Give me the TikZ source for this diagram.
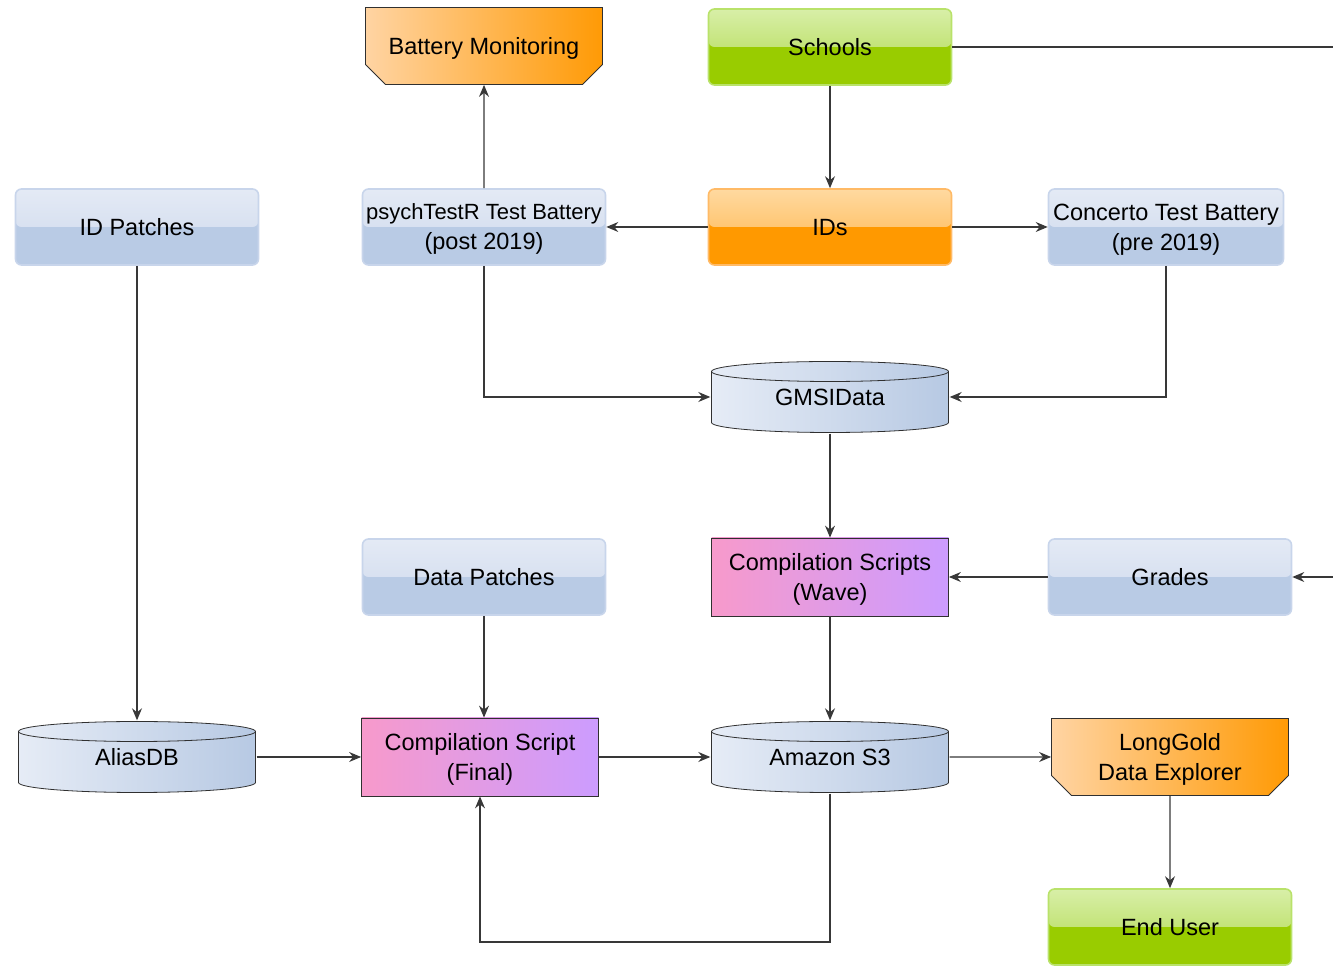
\documentclass[tikz,border=0pt]{standalone}
\usepackage{fontspec}
\setmainfont{Liberation Sans}
\usetikzlibrary{arrows.meta,shapes.misc}
\definecolor{lineC}{HTML}{303030}
\definecolor{linkC}{HTML}{383838}
\definecolor{blueTop}{HTML}{E4EAF5}
\definecolor{blueMid}{HTML}{CCD8EC}
\definecolor{blueBase}{HTML}{B9CBE5}
\definecolor{blueEdge}{HTML}{C8D5EB}
\definecolor{greenTop}{HTML}{D8EFA8}
\definecolor{greenMid}{HTML}{AED848}
\definecolor{greenBase}{HTML}{99CC00}
\definecolor{greenEdge}{HTML}{B9E26A}
\definecolor{orangeTop}{HTML}{FFD9A0}
\definecolor{orangeMid}{HTML}{FFB446}
\definecolor{orangeBase}{HTML}{FF9900}
\definecolor{orangeEdge}{HTML}{FFBA66}
\definecolor{peachL}{HTML}{FFD4A3}
\definecolor{peachR}{HTML}{FF9A05}
\definecolor{pinkL}{HTML}{F79ACB}
\definecolor{violetR}{HTML}{CC9CFF}
\definecolor{drumL}{HTML}{E6ECF6}
\definecolor{drumR}{HTML}{B7C9E3}
\tikzset{
  glossy/.style n args={4}{rectangle, rounded corners=6bp, draw=#4, line width=1.6bp,
    fill=#1, minimum width=243bp, minimum height=76bp, inner sep=2bp,
    path picture={\fill[top color=#2, bottom color=#3]
      (path picture bounding box.north west) rectangle (path picture bounding box.east);}},
  bluebox/.style={glossy={blueBase}{blueTop}{blueMid}{blueEdge}},
  greenbox/.style={glossy={greenBase}{greenTop}{greenMid}{greenEdge}},
  orangebox/.style={glossy={orangeBase}{orangeTop}{orangeMid}{orangeEdge}},
  banner/.style={chamfered rectangle, chamfered rectangle corners={south west,south east},
    chamfered rectangle xsep=9bp, chamfered rectangle ysep=11bp, draw=lineC, line width=0.8bp,
    left color=peachL, right color=peachR, minimum width=237bp, minimum height=77bp, inner sep=1bp},
  script/.style={rectangle, draw=lineC, line width=0.8bp, left color=pinkL, right color=violetR,
    minimum width=237bp, minimum height=78bp, inner sep=1bp},
  drum/.style={rectangle, minimum width=239bp, minimum height=73bp, inner sep=0pt,
    path picture={
      \shadedraw[left color=drumL, right color=drumR, draw=lineC, line width=0.8bp]
        ([shift={(1bp,-11bp)}]path picture bounding box.north west)
        -- ([shift={(1bp,11bp)}]path picture bounding box.south west)
        arc[start angle=180, end angle=360, x radius=118.5bp, y radius=10bp]
        -- ([shift={(-1bp,-11bp)}]path picture bounding box.north east)
        arc[start angle=0, end angle=180, x radius=118.5bp, y radius=10bp] -- cycle;
      \draw[lineC, line width=0.8bp]
        ([shift={(1bp,-11bp)}]path picture bounding box.north west)
        arc[start angle=180, end angle=360, x radius=118.5bp, y radius=10bp];}},
  every node/.style={font=\fontsize{23.5bp}{30bp}\selectfont, align=center, text=black, text depth=0bp},
  link/.style={draw=linkC, line width=1.1bp},
}
\begin{document}
\begin{tikzpicture}[>={Stealth[length=12bp,width=10bp,inset=4bp]}]
\useasboundingbox (0bp,0bp) rectangle (1333bp,966bp);
%%
\node (node_battery) at (484bp,920bp) [banner] {Battery Monitoring};
\node (node_schools) at (830bp,919bp) [greenbox] {Schools};
\node (node_idpatch) at (137bp,739bp) [bluebox] {ID Patches};
\node (node_psych) at (484bp,739bp) [bluebox] {\fontsize{22bp}{28bp}\selectfont psychTestR Test Battery\\(post 2019)};
\node (node_ids) at (830bp,739bp) [orangebox] {IDs};
\node (node_concerto) at (1166bp,739bp) [bluebox, minimum width=235bp] {Concerto Test Battery\\(pre 2019)};
\node (node_gmsi) at (830bp,569bp) [drum] {GMSIData};
\node (node_wave) at (830bp,389bp) [script] {Compilation Scripts\\(Wave)};
\node (node_grades) at (1170bp,389bp) [bluebox] {Grades};
\node (node_datapatch) at (484bp,389bp) [bluebox] {Data Patches};
\node (node_alias) at (137bp,209bp) [drum] {AliasDB};
\node (node_final) at (480bp,209bp) [script] {Compilation Script\\(Final)};
\node (node_s3) at (830bp,209bp) [drum] {Amazon S3};
\node (node_longgold) at (1170bp,209bp) [banner] {LongGold\\Data Explorer};
\node (node_enduser) at (1170bp,39bp) [greenbox] {End User};
\coordinate (edge_schools) at (1333bp,919bp);
\coordinate (edge_grades) at (1333bp,389bp);
\coordinate (turn_s3) at (830bp,24bp);
%
\draw [link,->] (node_psych) -- (node_battery);
\draw [link,->] (node_schools) -- (node_ids);
\draw [link] (node_schools) -- (edge_schools);
\draw [link,->] (node_ids) -- (node_psych);
\draw [link,->] (node_ids) -- (node_concerto);
\draw [link,->] (node_psych) |- (node_gmsi);
\draw [link,->] (node_concerto) |- (node_gmsi);
\draw [link,->] (node_gmsi) -- (node_wave);
\draw [link,->] (node_grades) -- (node_wave);
\draw [link,->] (edge_grades) -- (node_grades);
\draw [link,->] (node_idpatch) -- (node_alias);
\draw [link,->] (node_alias) -- (node_final);
\draw [link,->] (node_datapatch) -- (node_datapatch |- node_final.north);
\draw [link,->] (node_wave) -- (node_s3);
\draw [link,->] (node_final) -- (node_s3);
\draw [link,->] (node_s3) -- (node_longgold);
\draw [link,->] (node_longgold) -- (node_enduser);
\draw [link,->] (node_s3) -- (turn_s3) -| (node_final);
%
\end{tikzpicture}
\end{document}
